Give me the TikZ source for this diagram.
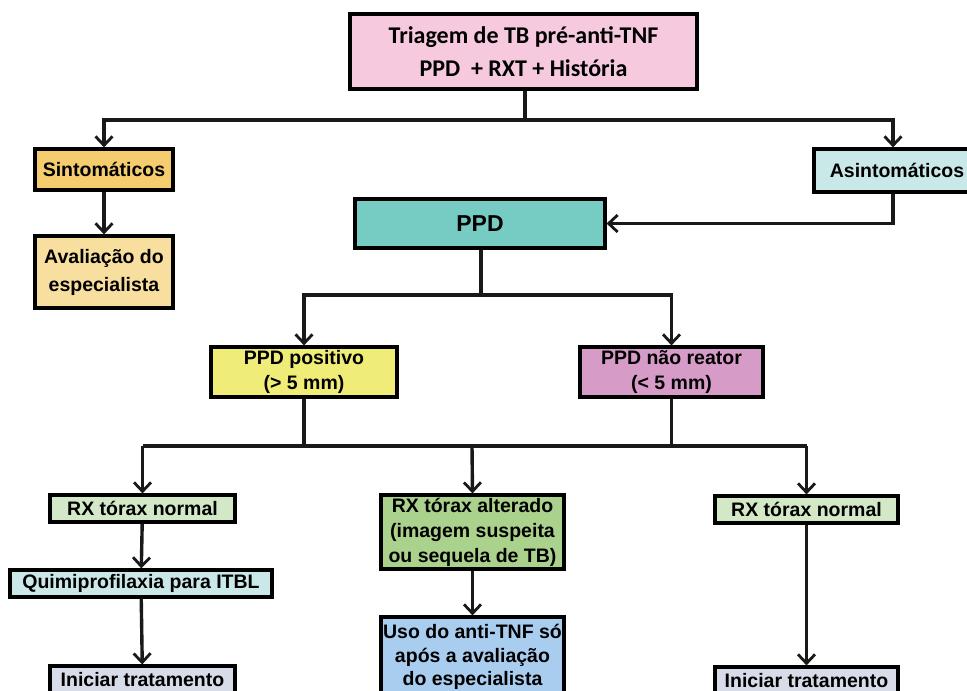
\documentclass[tikz,border=0pt]{standalone}
\usepackage{fontspec}
\setmainfont{Liberation Sans}
\newfontfamily\calibfont{Carlito}
\usetikzlibrary{arrows.meta}
\definecolor{cTop}{HTML}{F6C9DE}
\definecolor{cSint}{HTML}{F5CC6E}
\definecolor{cAval}{HTML}{F9DF9F}
\definecolor{cAsint}{HTML}{C9E9E8}
\definecolor{cPPD}{HTML}{76CBC3}
\definecolor{cPos}{HTML}{F0EC78}
\definecolor{cNeg}{HTML}{D79BC8}
\definecolor{cRxn}{HTML}{D3E8C6}
\definecolor{cQuim}{HTML}{CBE8E8}
\definecolor{cIni}{HTML}{D7DCE8}
\definecolor{cRxa}{HTML}{ABD28D}
\definecolor{cUso}{HTML}{A9CDEE}
\begin{document}
\begin{tikzpicture}[x=1pt,y=-1pt,
  box/.style={draw=black, line width=3.2pt, inner sep=0pt, align=center,
    font=\bfseries\fontsize{19.5}{25}\selectfont},
  conn/.style={line width=3.4pt, draw=black!90},
  arr/.style={conn, -{Straight Barb[length=9pt,width=17pt,line width=2.8pt]}}]
\useasboundingbox (0,0) rectangle (967,691);
\clip (0,0) rectangle (967,691);

\node[box, fill=cTop, minimum width=347pt, minimum height=75pt,
  font=\calibfont\bfseries\fontsize{24}{33}\selectfont] (top) at (523.5,51.5)
  {Triagem de TB pré-anti-TNF\\PPD \ + RXT + História};
\node[box, fill=cSint, minimum width=138pt, minimum height=41pt] (sint) at (104,169.5) {Sintomáticos};
\node[box, fill=cAval, minimum width=138pt, minimum height=72pt,
  font=\bfseries\fontsize{19.5}{28}\selectfont] (aval) at (104,272) {Avaliação do\\especialista};
\node[box, fill=cAsint, minimum width=166pt, minimum height=43pt] (asint) at (897,170.5) {Asintomáticos};
\node[box, fill=cPPD, minimum width=250pt, minimum height=49pt,
  font=\bfseries\fontsize{23}{28}\selectfont] (ppd) at (480,223.5) {PPD};
\node[box, fill=cPos, minimum width=186pt, minimum height=50pt] (pos) at (304,372) {PPD positivo\\(> 5 mm)};
\node[box, fill=cNeg, minimum width=183pt, minimum height=50pt] (neg) at (671.5,372) {PPD não reator\\(< 5 mm)};
\node[box, fill=cRxn, minimum width=185pt, minimum height=27pt] (rxn1) at (142.5,508.5) {RX tórax normal};
\node[box, fill=cQuim, minimum width=262pt, minimum height=27pt] (quim) at (141,583.5) {Quimiprofilaxia para ITBL};
\node[box, fill=cIni, minimum width=185pt, minimum height=28pt] (ini1) at (142.5,680) {Iniciar tratamento};
\node[box, fill=cRxa, minimum width=183pt, minimum height=74pt] (rxa) at (472.5,532) {RX tórax alterado\\(imagem suspeita\\ou sequela de TB)};
\node[box, fill=cUso, minimum width=183pt, minimum height=80pt,
  font=\bfseries\fontsize{19.5}{23.5}\selectfont] (uso) at (472.5,657) {Uso do anti-TNF só\\após a avaliação\\do especialista};
\node[box, fill=cRxn, minimum width=183pt, minimum height=27pt] (rxn2) at (806.5,509.5) {RX tórax normal};
\node[box, fill=cIni, minimum width=183pt, minimum height=28pt] (ini2) at (806.5,681) {Iniciar tratamento};

\coordinate (b1) at (525,120);
\coordinate (b2) at (481,295);
\coordinate (b3) at (472,446);

\draw[conn] (top.south -| b1) -- (b1);
\draw[arr] (b1) -| (sint.north);
\draw[arr] (b1) -| (asint.north -| 893,0);
\draw[arr] (sint) -- (aval);
\draw[arr] (asint.south -| 893,0) |- (ppd.east);

\draw[conn] (ppd.south -| b2) -- (b2);
\draw[arr] (b2) -| (pos.north);
\draw[arr] (b2) -| (neg.north);

\draw[conn] (pos.south) -- (pos.south |- b3);
\draw[conn] (neg.south) -- (neg.south |- b3);
\draw[conn] (rxn1.north |- b3) -- (rxn2.north |- b3);
\draw[arr] (rxn1.north |- b3) -- (rxn1.north);
\draw[arr] (b3) -- (rxa.north);
\draw[arr] (rxn2.north |- b3) -- (rxn2.north);

\draw[arr] (rxn1) -- (quim);
\draw[arr] (quim) -- (ini1);
\draw[arr] (rxa) -- (uso);
\draw[arr] (rxn2) -- (ini2);
\end{tikzpicture}
\end{document}
